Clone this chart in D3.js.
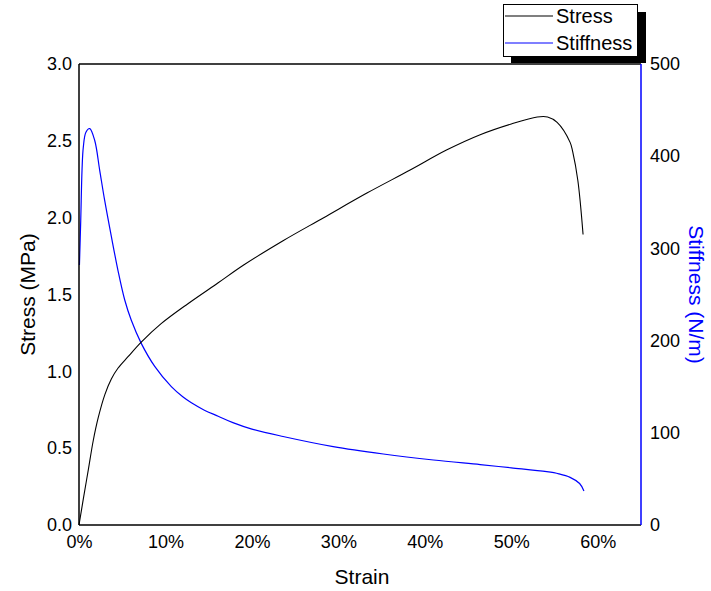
<!DOCTYPE html>
<html>
<head>
<meta charset="utf-8">
<script src="https://cdn.jsdelivr.net/npm/d3@7"></script>
<style>
  body { margin: 0; background: #fff; }
  text { font-family: "Liberation Sans", Arial, sans-serif; }
</style>
</head>
<body>
<svg id="drawing_region"></svg>
<script>
// stress-strain curve (strain in %, stress in MPa)
const stressStrain = [0, 0.5, 1.08, 1.65, 2.23, 3.0, 3.74, 4.5, 5.67, 7.2, 9.5, 12.6, 16.1, 19.0, 23.6, 28.3, 33.3, 38.3, 42.5, 46.4, 50, 53, 54.2, 55.3, 56.8, 57.1, 57.7, 58.3]
const stressValues = [0, 0.17, 0.36, 0.55, 0.70, 0.85, 0.95, 1.02, 1.095, 1.19, 1.31, 1.44, 1.576, 1.69, 1.85, 2.0, 2.16, 2.31, 2.44, 2.54, 2.61, 2.655, 2.655, 2.62, 2.49, 2.43, 2.24, 1.89]

// stiffness curve (strain in %, stiffness in N/m)
const stiffStrain = [0.05, 0.2, 0.35, 0.5, 0.8, 1.24, 1.82, 2.39, 2.97, 3.74, 4.51, 5.29, 6.05, 7.2, 8.76, 10.68, 12, 13, 14.5, 16.1, 17.8, 20, 23.6, 29.4, 35.2, 41, 46.4, 50, 54.1, 55.5, 56.8, 57.9, 58.4]
const stiffValues = [282, 330, 385, 410, 426, 430, 417, 385, 352, 313, 276, 244, 222, 197, 172, 150, 139, 132.5, 124.5, 118, 111, 104, 96, 85, 77, 70.5, 65.5, 62, 57.8, 55.5, 51.7, 45, 37]

const xTicks = [0, 10, 20, 30, 40, 50, 60]
const stressTicks = [0, 0.5, 1.0, 1.5, 2.0, 2.5, 3.0]
const stiffTicks = [0, 100, 200, 300, 400, 500]
const legendNames = ['Stress', 'Stiffness']
const legendColors = ['#000', '#0000ff']

const W = 711, H = 591
const margin = {top: 64, right: 70, bottom: 66, left: 79}
const iw = 641 - margin.left, ih = 525 - margin.top

const svg = d3.select('#drawing_region').attr('width', W).attr('height', H)
const g = svg.append('g').attr('transform', `translate(${margin.left},${margin.top})`)

const x = d3.scaleLinear().domain([0, 65]).range([0, iw])
const yL = d3.scaleLinear().domain([0, 3]).range([ih, 0])
const yR = d3.scaleLinear().domain([0, 500]).range([ih, 0])

// curves
const stressData = stressStrain.map((s, i) => [s, stressValues[i]])
const stiffData = stiffStrain.map((s, i) => [s, stiffValues[i]])

g.append('path').datum(stiffData)
  .attr('fill', 'none').attr('stroke', '#0000ff').attr('stroke-width', 1.2)
  .attr('d', d3.line().x(d => x(d[0])).y(d => yR(d[1])).curve(d3.curveCatmullRom.alpha(0.5)))

g.append('path').datum(stressData)
  .attr('fill', 'none').attr('stroke', '#000').attr('stroke-width', 1.1)
  .attr('d', d3.line().x(d => x(d[0])).y(d => yL(d[1])).curve(d3.curveCatmullRom.alpha(0.5)))

// axes
const xAxis = g.append('g').attr('transform', `translate(0,${ih})`)
  .call(d3.axisBottom(x).tickValues(xTicks).tickFormat(d => d + '%').tickSize(0).tickPadding(10))
const lAxis = g.append('g')
  .call(d3.axisLeft(yL).tickValues(stressTicks).tickFormat(d3.format('.1f')).tickSize(0).tickPadding(7))
const rAxis = g.append('g').attr('transform', `translate(${iw},0)`)
  .call(d3.axisRight(yR).tickValues(stiffTicks).tickSize(0).tickPadding(9))

;[xAxis, lAxis, rAxis].forEach(a => {
  a.select('.domain').remove()
  a.selectAll('text').attr('font-size', 18).attr('fill', '#000')
    .attr('font-family', '"Liberation Sans", Arial, sans-serif')
})

// frame
g.append('line').attr('x1', 0).attr('x2', iw).attr('y1', 0).attr('y2', 0).attr('stroke', '#000').attr('stroke-width', 1.5)
g.append('line').attr('x1', 0).attr('x2', iw).attr('y1', ih).attr('y2', ih).attr('stroke', '#000').attr('stroke-width', 1.5)
g.append('line').attr('x1', 0).attr('x2', 0).attr('y1', 0).attr('y2', ih).attr('stroke', '#000').attr('stroke-width', 1.5)
g.append('line').attr('x1', iw).attr('x2', iw).attr('y1', 0).attr('y2', ih).attr('stroke', '#0000ff').attr('stroke-width', 1.5)

// axis titles
svg.append('text').attr('x', 362).attr('y', 584).attr('text-anchor', 'middle')
  .attr('font-size', 21).text('Strain')
svg.append('text').attr('transform', `translate(35,${margin.top + ih / 2}) rotate(-90)`)
  .attr('text-anchor', 'middle').attr('font-size', 21).text('Stress (MPa)')
svg.append('text').attr('transform', `translate(689,${margin.top + ih / 2}) rotate(90)`)
  .attr('text-anchor', 'middle').attr('font-size', 21).attr('fill', '#0000ff').text('Stiffness (N/m)')

// legend
const leg = svg.append('g')
leg.append('rect').attr('x', 511).attr('y', 12).attr('width', 135).attr('height', 51).attr('fill', '#000')
leg.append('rect').attr('x', 503.5).attr('y', 4.5).attr('width', 134).attr('height', 52)
  .attr('fill', '#fff').attr('stroke', '#000').attr('stroke-width', 1)
legendNames.forEach((name, i) => {
  const ly = 16 + i * 27
  leg.append('line').attr('x1', 505).attr('x2', 553).attr('y1', ly).attr('y2', ly)
    .attr('stroke', legendColors[i]).attr('stroke-width', 1.2)
  leg.append('text').attr('x', 556).attr('y', ly + 7).attr('font-size', 20).text(name)
})
</script>
</body>
</html>
